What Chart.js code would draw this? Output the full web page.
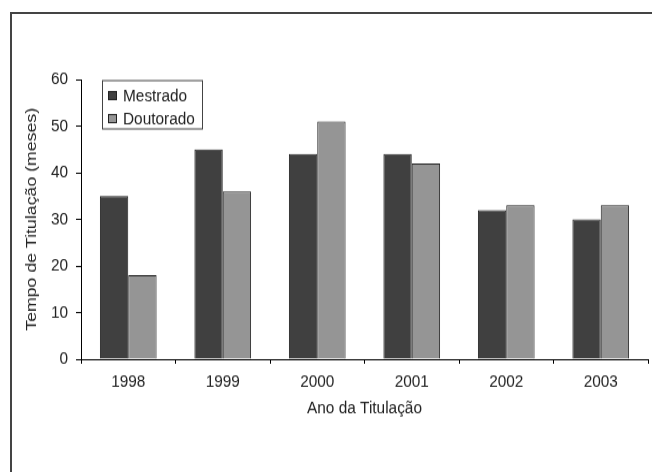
<!DOCTYPE html>
<html>
<head>
<meta charset="utf-8">
<script src="https://cdn.jsdelivr.net/npm/chart.js@4/dist/chart.umd.min.js"></script>
<style>
  html, body { margin: 0; padding: 0; background: #fff; overflow: hidden; }
  #frame { position: absolute; left: 10px; top: 12px; width: 700px; height: 520px;
           border-left: 2px solid #444; border-top: 2px solid #444; }
  /* the original picture is stretched vertically, text included */
  #chart { position: absolute; left: 0; top: 0; transform-origin: 0 0; transform: scaleY(1.1512); }
</style>
</head>
<body>
<div id="frame"></div>
<canvas id="chart" width="652" height="410"></canvas>
<script>
// Dados
const years = ['1998', '1999', '2000', '2001', '2002', '2003'];
const mestrado = [35, 45, 44, 44, 32, 30];
const doutorado = [18, 36, 51, 42, 33, 33];
const yTicks = [0, 10, 20, 30, 40, 50, 60];

const font = { family: '"Liberation Sans", Arial, sans-serif', size: 15.4 };
const textColor = '#222';

// legend drawn inside the plot area, top-left
const boxLegend = {
  id: 'boxLegend',
  afterDraw(chart) {
    const ctx = chart.ctx;
    const area = chart.chartArea;
    const x = area.left + 21, y = area.top + 0.5;
    ctx.save();
    ctx.fillStyle = '#fff';
    ctx.fillRect(x, y, 100, 42);
    ctx.strokeStyle = '#444';
    ctx.lineWidth = 1;
    ctx.strokeRect(x + 0.5, y + 0.5, 100, 42);
    ctx.font = font.size + 'px ' + font.family;
    ctx.textBaseline = 'middle';
    chart.data.datasets.forEach((ds, i) => {
      const ry = y + 13.5 + i * 20;
      ctx.fillStyle = ds.backgroundColor;
      ctx.fillRect(x + 6, ry - 4, 9, 8);
      ctx.strokeStyle = '#222';
      ctx.strokeRect(x + 6.5, ry - 3.5, 8, 7);
      ctx.fillStyle = textColor;
      ctx.fillText(ds.label, x + 21, ry + 0.5);
    });
    ctx.restore();
  }
};

new Chart(document.getElementById('chart'), {
  type: 'bar',
  data: {
    labels: years,
    datasets: [
      { label: 'Mestrado', data: mestrado, backgroundColor: '#404040', borderColor: '#222', borderWidth: 1 },
      { label: 'Doutorado', data: doutorado, backgroundColor: '#959595', borderColor: '#222', borderWidth: 1 }
    ]
  },
  options: {
    responsive: false,
    animation: false,
    layout: { padding: { top: 69, right: 4, left: 0, bottom: 0 } },
    categoryPercentage: 0.6,
    barPercentage: 1.0,
    plugins: { legend: { display: false }, tooltip: { enabled: false } },
    scales: {
      x: {
        grid: { display: true, drawOnChartArea: false, offset: true, tickLength: 4, color: '#000' },
        border: { display: true, color: '#000', width: 1 },
        ticks: { font: font, color: textColor, padding: 7, maxRotation: 0 },
        title: { display: true, text: 'Ano da Titulação', font: font, color: textColor, padding: { top: 0, bottom: 46 } },
        afterFit(scale) { scale.height = 98; }
      },
      y: {
        min: 0,
        max: 60,
        afterBuildTicks(scale) { scale.ticks = yTicks.map(v => ({ value: v })); },
        grid: { display: true, drawOnChartArea: false, tickLength: 5, color: '#000' },
        border: { display: true, color: '#000', width: 1 },
        ticks: { font: font, color: textColor, padding: 8 },
        title: { display: true, text: 'Tempo de Titulação (meses)', font: font, color: textColor, padding: { top: 23, bottom: 0 } },
        afterFit(scale) { scale.width = 81; }
      }
    }
  },
  plugins: [boxLegend]
});
</script>
</body>
</html>
